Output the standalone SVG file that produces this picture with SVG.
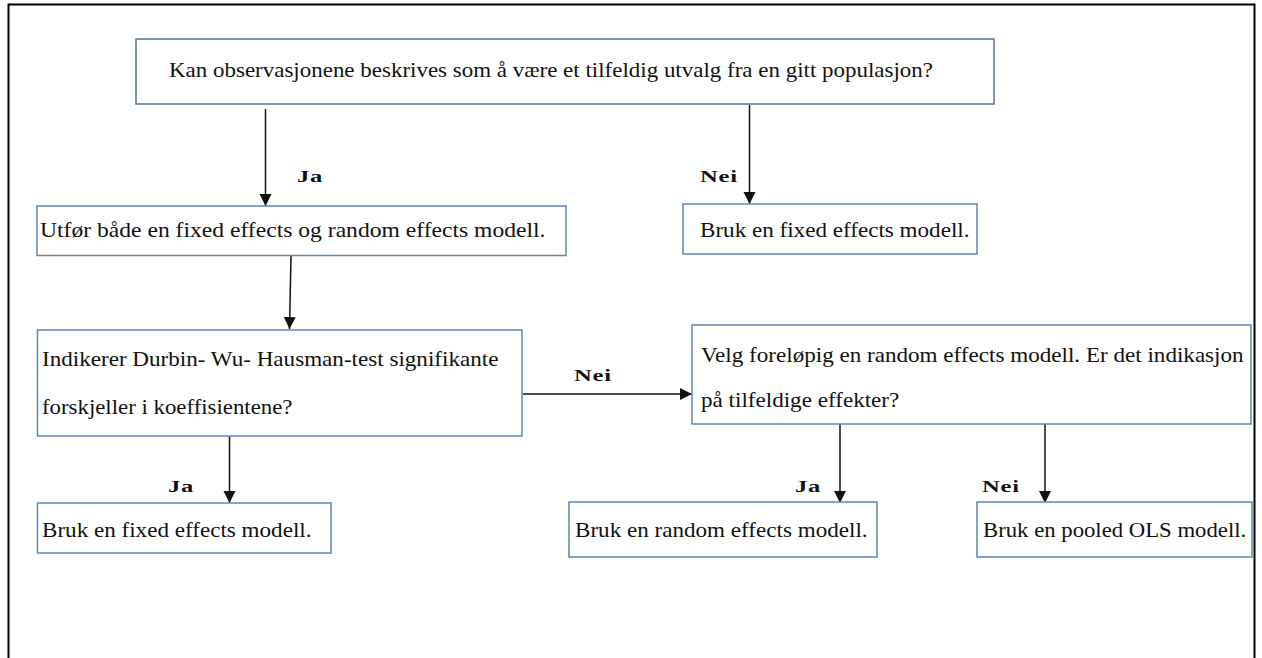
<svg xmlns="http://www.w3.org/2000/svg" width="1262" height="658" viewBox="0 0 1262 658" font-family="Liberation Serif, Times New Roman, serif">
<style>
.box{fill:#fff;stroke:#5b87bb;stroke-width:1.5}
.top{fill:#fff;stroke:#56708f;stroke-width:1.5}
.t{font-size:21px;fill:#111}
.b{font-size:17px;font-weight:bold;letter-spacing:0.5px;fill:#111}
.c{stroke:#111;stroke-width:1.5;fill:none;marker-end:url(#ah)}
</style>
<defs>
<marker id="ah" markerWidth="14" markerHeight="14" refX="12" refY="6" orient="auto" markerUnits="userSpaceOnUse">
<path d="M0,0 L12,6 L0,12 Z" fill="#111"/>
</marker>
</defs>
<rect x="0" y="0" width="1262" height="658" fill="#fff"/>
<rect x="8.5" y="4.5" width="1246" height="700" fill="none" stroke="#000" stroke-width="2"/>
<g id="connectors">
<line class="c" x1="265.5" y1="109" x2="265.5" y2="206"/>
<line class="c" x1="749.5" y1="105" x2="749.5" y2="204"/>
<line class="c" x1="291" y1="256" x2="289.5" y2="329"/>
<line class="c" x1="523" y1="394" x2="692" y2="394"/>
<line class="c" x1="229.5" y1="429" x2="229.5" y2="503"/>
<line class="c" x1="840" y1="424" x2="840" y2="503"/>
<line class="c" x1="1045" y1="424" x2="1045" y2="503"/>
<text class="b" font-family="Liberation Serif, serif" transform="translate(297 182) scale(1.45 1)">Ja</text>
<text class="b" font-family="Liberation Serif, serif" transform="translate(700 182) scale(1.45 1)">Nei</text>
<text class="b" font-family="Liberation Serif, serif" transform="translate(574 381) scale(1.45 1)">Nei</text>
<text class="b" font-family="Liberation Serif, serif" transform="translate(168 492) scale(1.45 1)">Ja</text>
<text class="b" font-family="Liberation Serif, serif" transform="translate(795 492) scale(1.45 1)">Ja</text>
<text class="b" font-family="Liberation Serif, serif" transform="translate(982 492) scale(1.45 1)">Nei</text>
</g>
<g id="q1">
<rect class="top" x="136" y="39" width="858" height="65"/>
<text class="t" font-family="Liberation Serif, serif" transform="translate(169 77) scale(1.094 1)">Kan observasjonene beskrives som å være et tilfeldig utvalg fra en gitt populasjon?</text>
</g>
<g id="both">
<rect class="box" x="37" y="206" width="529" height="49.5"/>
<text class="t" font-family="Liberation Serif, serif" transform="translate(40 237) scale(1.124 1)">Utfør både en fixed effects og random effects modell.</text>
</g>
<g id="fe1">
<rect class="box" x="683" y="204" width="294" height="50"/>
<text class="t" font-family="Liberation Serif, serif" transform="translate(700 237) scale(1.1 1)">Bruk en fixed effects modell.</text>
</g>
<g id="dwh">
<rect class="box" x="37.5" y="330" width="484.5" height="106"/>
<text class="t" font-family="Liberation Serif, serif" transform="translate(42 366) scale(1.1 1)">Indikerer Durbin- Wu- Hausman-test signifikante</text>
<text class="t" font-family="Liberation Serif, serif" transform="translate(42 414) scale(1.087 1)">forskjeller i koeffisientene?</text>
</g>
<g id="re-q">
<rect class="box" x="692" y="325" width="559" height="99"/>
<text class="t" font-family="Liberation Serif, serif" transform="translate(701 362) scale(1.1 1)">Velg foreløpig en random effects modell. Er det indikasjon</text>
<text class="t" font-family="Liberation Serif, serif" transform="translate(701 407) scale(1.1 1)">på tilfeldige effekter?</text>
</g>
<g id="fe2">
<rect class="box" x="37.5" y="503" width="293.5" height="50"/>
<text class="t" font-family="Liberation Serif, serif" transform="translate(42 537) scale(1.1 1)">Bruk en fixed effects modell.</text>
</g>
<g id="re">
<rect class="box" x="569" y="502" width="308" height="55"/>
<text class="t" font-family="Liberation Serif, serif" transform="translate(575 537) scale(1.1 1)">Bruk en random effects modell.</text>
</g>
<g id="ols">
<rect class="box" x="977" y="502" width="275" height="55"/>
<text class="t" font-family="Liberation Serif, serif" transform="translate(983 537) scale(1.083 1)">Bruk en pooled OLS modell.</text>
</g>
</svg>
